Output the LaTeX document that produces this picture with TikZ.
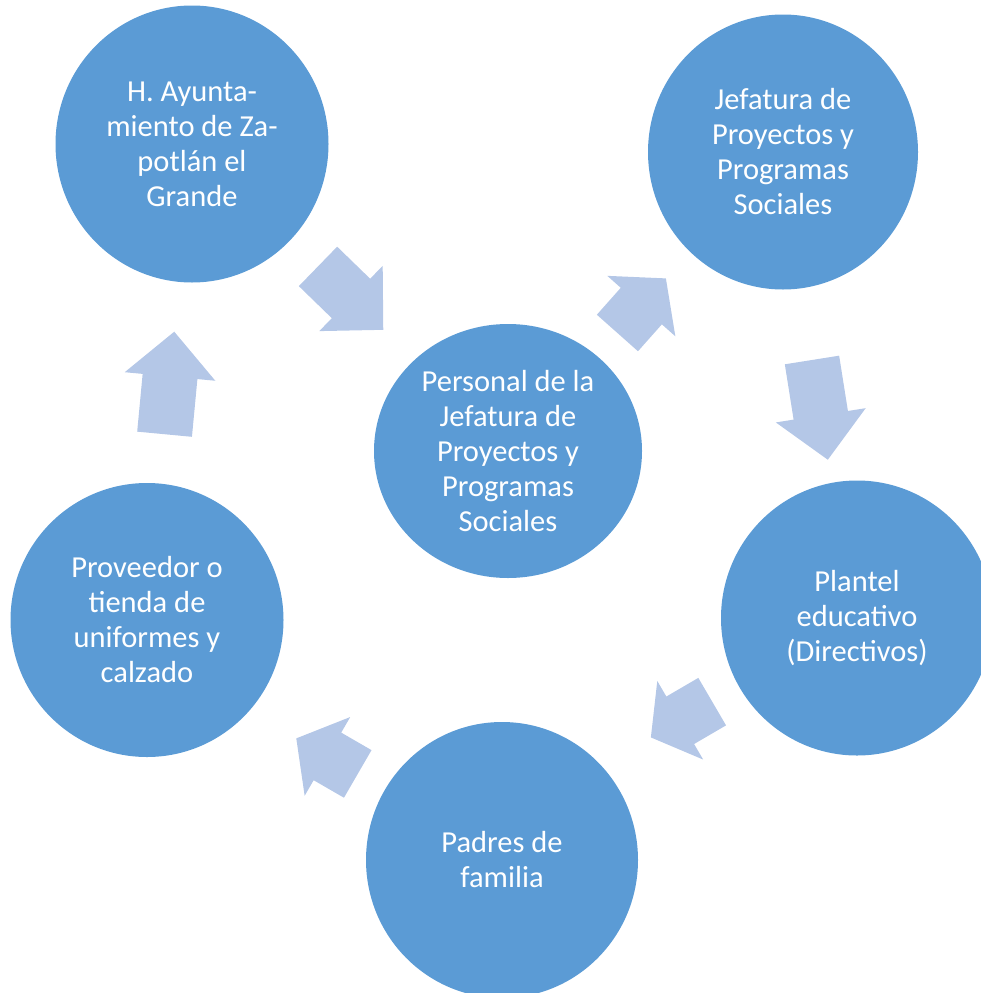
\documentclass[tikz,border=0pt]{standalone}
\usepackage{fontspec}
\setmainfont{Carlito}
\usetikzlibrary{calc,shapes.geometric}
\definecolor{circblue}{HTML}{5B9BD5}
\definecolor{arrblue}{HTML}{B4C7E7}
\tikzset{
  stage/.style={ellipse, fill=circblue, draw=none, inner sep=0pt, text=white,
    align=center, font=\fontsize{30.5}{35}\selectfont},
  flowarrow/.style={fill=arrblue, draw=none}
}
% #1 from node, #2 to node, #3 position along centre line, #4 side offset,
% #5 angle correction, #6 shaft length, #7 head length
\newcommand\cycarrow[7]{%
  \path let \p1=(#1.center), \p2=(#2.center), \n1={atan2(\y2-\y1,\x2-\x1)} in
    \pgfextra{\xdef\cycang{\n1}};
  \pgfmathsetmacro\cycrot{\cycang+#5}%
  \pgfmathsetmacro\cycu{-(#6+#7)/2}%
  \pgfmathsetmacro\cycv{-(#6+#7)/2+#6}%
  \pgfmathsetmacro\cycw{(#6+#7)/2}%
  \begin{scope}[shift={($(#1)!#3!(#2)$)}, rotate=\cycrot, yshift=-#4pt]
    \fill[flowarrow] (\cycu,-27.5) -- (\cycv,-27.5) -- (\cycv,-45.5) -- (\cycw,0)
      -- (\cycv,45.5) -- (\cycv,27.5) -- (\cycu,27.5) -- cycle;
  \end{scope}
}
\begin{document}
\begin{tikzpicture}[x=1pt,y=-1pt]
\useasboundingbox (0,0) rectangle (981,993);
\node[stage, minimum width=273pt, minimum height=277pt] (ayto) at (192,144)
  {H. Ayunta-\\miento de Za-\\potlán el\\Grande};
\node[stage, minimum width=270pt, minimum height=275pt] (jef) at (783,152)
  {Jefatura de\\Proyectos y\\Programas\\Sociales};
\node[stage, minimum width=268pt, minimum height=254pt] (pers) at (508,451)
  {Personal de la\\Jefatura de\\Proyectos y\\Programas\\Sociales};
\node[stage, minimum width=272pt, minimum height=275pt] (plantel) at (857,618)
  {Plantel\\educativo\\(Directivos)};
\node[stage, minimum width=272pt, minimum height=276pt] (padres) at (502,860)
  {Padres de\\familia};
\node[stage, minimum width=273pt, minimum height=274pt] (prov) at (147,620)
  {Proveedor o\\tienda de\\uniformes y\\calzado};
\cycarrow{ayto}{pers}{0.502}{0}{0}{46}{45}
\cycarrow{pers}{jef}{0.486}{0}{1}{36}{37}
\cycarrow{jef}{plantel}{0.552}{4}{0}{56}{45}
\cycarrow{plantel}{padres}{0.473}{15}{-4}{37}{34}
\cycarrow{padres}{prov}{0.476}{-12}{4}{35}{36}
\cycarrow{prov}{ayto}{0.498}{0}{0}{58}{45}
\end{tikzpicture}
\end{document}
